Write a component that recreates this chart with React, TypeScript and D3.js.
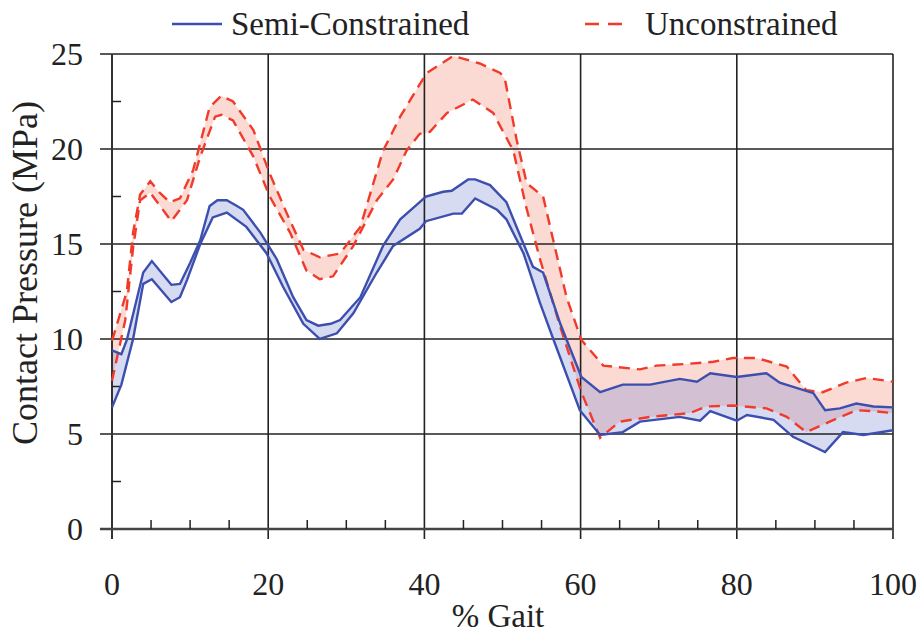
import React from "react";
import * as d3 from "d3";

// % gait, contact pressure (MPa)
const semiUpperX = [0, 1.2, 1.9, 4.0, 5.1, 7.6, 8.7, 10.0, 11.3, 12.5, 13.5, 14.7, 16.0, 16.8, 19.0, 21.1, 23.2, 24.9, 26.4, 28.0, 29.2, 31.8, 34.7, 36.9, 39.4, 40.2, 42.4, 43.5, 45.6, 46.5, 48.4, 50.5, 52.7, 53.9, 55.2, 57.4, 60.1, 62.5, 65.4, 68.9, 72.7, 74.9, 76.6, 80, 83.8, 85.5, 89.8, 91.3, 93.2, 95.3, 97.5, 100];
const semiUpperY = [9.4, 9.2, 9.95, 13.5, 14.1, 12.85, 12.9, 14.0, 15.2, 17.0, 17.3, 17.3, 17.0, 16.8, 15.6, 14.2, 12.2, 11.0, 10.7, 10.8, 11.0, 12.2, 14.9, 16.3, 17.2, 17.5, 17.75, 17.8, 18.4, 18.4, 18.1, 17.2, 15.0, 13.8, 13.5, 10.8, 8.0, 7.2, 7.6, 7.6, 7.9, 7.75, 8.2, 8.0, 8.2, 7.7, 7.15, 6.25, 6.35, 6.6, 6.45, 6.4];

const semiLowerX = [0, 1.2, 2.7, 4.0, 5.1, 7.6, 8.7, 9.6, 11.3, 12.9, 14.7, 17.2, 19.8, 21.9, 24.5, 26.6, 28.8, 30.9, 33.9, 36, 39.4, 40.2, 43.7, 44.8, 46.5, 49.3, 50.5, 52.7, 54.8, 56.5, 59.9, 62.5, 65.4, 67.6, 72.7, 75.3, 76.6, 80, 81.3, 84.7, 87.2, 91.3, 93.6, 96.2, 100];
const semiLowerY = [6.4, 7.6, 10.0, 12.9, 13.15, 11.95, 12.2, 13.1, 15.0, 16.4, 16.65, 15.9, 14.5, 12.75, 10.8, 10.0, 10.3, 11.35, 13.5, 14.9, 15.8, 16.2, 16.6, 16.6, 17.4, 16.8, 16.3, 14.5, 11.9, 10.0, 6.25, 4.95, 5.1, 5.65, 5.9, 5.7, 6.2, 5.7, 6.0, 5.75, 4.85, 4.05, 5.1, 4.95, 5.2];

const unconUpperX = [0, 1.9, 2.7, 3.6, 4.9, 6.1, 7.4, 8.7, 10.4, 12.5, 14.0, 15.5, 18.1, 20.2, 22.4, 24.5, 26.6, 29.2, 31.8, 34.7, 36.9, 39.4, 40.3, 43.7, 47.1, 49.7, 50.3, 51.8, 53.1, 55.2, 56.5, 58.2, 60.1, 62.9, 67.6, 69.7, 74, 77, 79.5, 82.5, 86.4, 88.9, 91, 94, 96.6, 100];
const unconUpperY = [9.9, 12.5, 15.6, 17.6, 18.3, 17.7, 17.2, 17.4, 18.9, 22.2, 22.8, 22.5, 21.0, 18.7, 16.6, 14.7, 14.3, 14.5, 15.9, 19.9, 21.7, 23.4, 24.0, 24.9, 24.5, 24.0, 23.7, 20.5, 18.2, 17.5, 15.2, 12.2, 9.95, 8.6, 8.4, 8.6, 8.7, 8.8, 9.0, 9.0, 8.55, 7.3, 7.2, 7.7, 7.95, 7.75];

const unconLowerX = [0, 1.7, 2.7, 3.6, 4.9, 7.6, 9.6, 11.3, 13.2, 14.0, 15.5, 18.1, 20.2, 22.8, 24.9, 26.6, 28.3, 30.9, 33.9, 36, 37.7, 39.4, 40.7, 42.9, 46.2, 48.8, 51.4, 53.0, 54.8, 57.5, 60.1, 62.5, 65, 68.9, 74, 76.1, 79.5, 83.8, 86.4, 88.9, 91.9, 95.3, 97.5, 100];
const unconLowerY = [7.8, 11.0, 14.8, 17.3, 17.7, 16.2, 17.3, 19.6, 21.7, 21.8, 21.5, 19.6, 17.5, 15.6, 13.6, 13.15, 13.3, 14.9, 17.3, 18.4, 19.9, 20.8, 20.9, 21.9, 22.6, 21.9, 19.9, 17.0, 14.2, 10.5, 7.2, 4.8, 5.65, 5.9, 6.1, 6.45, 6.5, 6.35, 5.9, 5.1, 5.65, 6.25, 6.2, 6.1];

const xMajor = [0, 20, 40, 60, 80, 100];
const xMinor = [5, 10, 15, 25, 30, 35, 45, 50, 55, 65, 70, 75, 85, 90, 95];
const yMajor = [0, 5, 10, 15, 20, 25];
const yMinor = [2.5, 7.5, 12.5, 17.5, 22.5];

const W = 918;
const H = 633;
const x = d3.scaleLinear().domain([0, 100]).range([112, 893]);
const y = d3.scaleLinear().domain([0, 25]).range([529, 54]);

const zip = (xs: number[], ys: number[]) => xs.map((v, i) => [v, ys[i]] as [number, number]);
const line = d3
  .line<[number, number]>()
  .x((d) => x(d[0]))
  .y((d) => y(d[1]));

function band(up: [number, number][], lo: [number, number][]) {
  return line([...up, ...lo.slice().reverse()]) + "Z";
}

const BLUE = "#3c4fae";
const RED = "#f23a2a";
const txt: React.CSSProperties = { fontFamily: '"Liberation Serif"' };
const INK = "#222";

export default function App() {
  const su = zip(semiUpperX, semiUpperY);
  const sl = zip(semiLowerX, semiLowerY);
  const uu = zip(unconUpperX, unconUpperY);
  const ul = zip(unconLowerX, unconLowerY);

  return (
    <svg width={W} height={H} style={{ position: "absolute", left: 0, top: 0, background: "#fff" }}>
      <rect width={W} height={H} fill="#fff" />
      {/* bands */}
      <path d={band(uu, ul)} fill="#f3907c" fillOpacity={0.33} />
      <path d={band(su, sl)} fill="#6f7fcf" fillOpacity={0.28} />

      {/* grid */}
      {yMajor.filter((v) => v > 0).map((v) => (
        <line key={"gy" + v} x1={x(0) - 12} x2={x(100)} y1={y(v)} y2={y(v)} stroke="#222" strokeWidth={1.6} />
      ))}
      {xMajor.filter((v) => v > 0).map((v) => (
        <line key={"gx" + v} x1={x(v)} x2={x(v)} y1={y(25)} y2={y(0) + 10} stroke="#222" strokeWidth={1.6} />
      ))}
      {/* axes */}
      <line x1={x(0)} x2={x(0)} y1={y(25)} y2={y(0) + 10} stroke="#333" strokeWidth={2} />
      <line x1={x(0) - 12} x2={x(100)} y1={y(0)} y2={y(0)} stroke="#444" strokeWidth={2.4} />
      {yMinor.map((v) => (
        <line key={"my" + v} x1={x(0)} x2={x(0) + 9} y1={y(v)} y2={y(v)} stroke="#222" strokeWidth={1.5} />
      ))}
      {xMinor.map((v) => (
        <line key={"mx" + v} x1={x(v)} x2={x(v)} y1={y(0)} y2={y(0) - 9} stroke="#222" strokeWidth={1.5} />
      ))}

      {/* lines */}
      <path d={line(uu)!} fill="none" stroke={RED} strokeWidth={2.4} strokeDasharray="11 7" />
      <path d={line(ul)!} fill="none" stroke={RED} strokeWidth={2.4} strokeDasharray="11 7" />
      <path d={line(su)!} fill="none" stroke={BLUE} strokeWidth={2.4} />
      <path d={line(sl)!} fill="none" stroke={BLUE} strokeWidth={2.4} />

      {/* tick labels */}
      {yMajor.map((v) => (
        <text key={"ty" + v} x={83} y={y(v) + 11} textAnchor="end" fontSize={32} fill={INK} style={txt}>
          {v}
        </text>
      ))}
      {xMajor.map((v) => (
        <text key={"tx" + v} x={x(v)} y={595} textAnchor="middle" fontSize={32} fill={INK} style={txt}>
          {v}
        </text>
      ))}

      <text x={498} y={627} textAnchor="middle" fontSize={33} fill={INK} style={txt}>
        % Gait
      </text>
      <text transform={`translate(37,273) rotate(-90)`} textAnchor="middle" fontSize={36} fill={INK} style={txt}>
        Contact Pressure (MPa)
      </text>

      {/* legend */}
      <line x1={172} x2={222} y1={24} y2={24} stroke={BLUE} strokeWidth={2.6} />
      <text x={231} y={35} fontSize={33} fill={INK} style={txt}>
        Semi-Constrained
      </text>
      <line x1={585} x2={630} y1={24} y2={24} stroke={RED} strokeWidth={2.6} strokeDasharray="14 9" />
      <text x={645} y={35} fontSize={33} fill={INK} style={txt}>
        Unconstrained
      </text>
    </svg>
  );
}
